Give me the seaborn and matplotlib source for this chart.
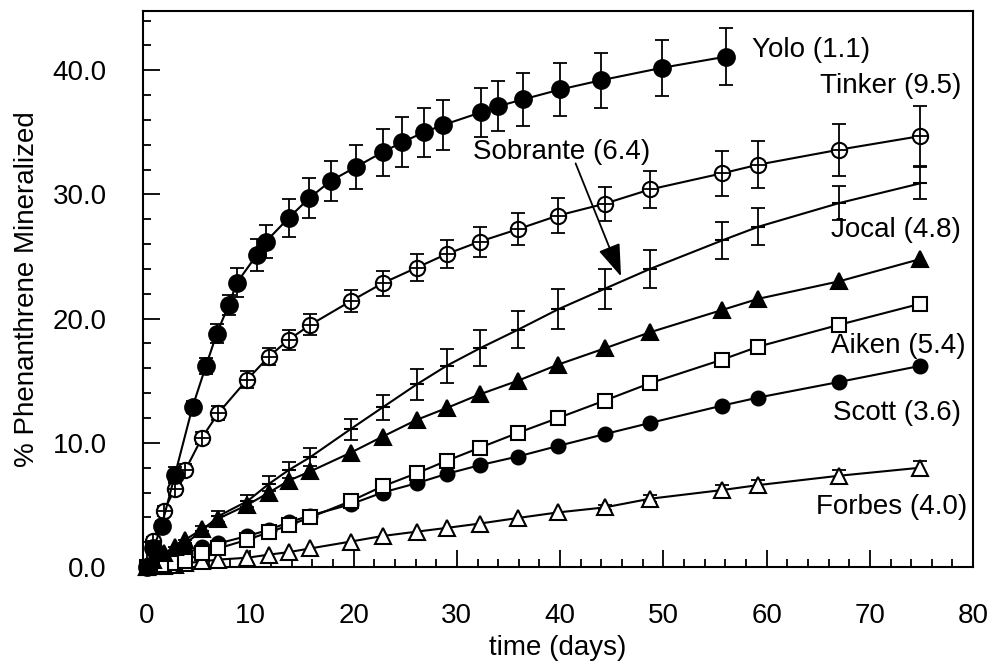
import matplotlib
matplotlib.use("Agg")
import matplotlib.pyplot as plt
from matplotlib.ticker import MultipleLocator, FormatStrFormatter
import numpy as np
import pandas as pd
import seaborn as sns

# Sampling days shared by most soils
days = [0, 0.6, 1.6, 2.7, 3.7, 5.3, 6.9, 9.7, 11.8, 13.7, 15.8, 19.7, 22.8,
        26.1, 29.0, 32.2, 35.9, 39.8, 44.3, 48.7, 55.7, 59.2, 67.0, 74.9]

# Yolo was sampled on its own schedule
yolo_days = [0, 0.6, 1.4, 2.7, 4.4, 5.7, 6.75, 7.9, 8.7, 10.6, 11.5, 13.7, 15.7,
             17.8, 20.2, 22.8, 24.7, 26.8, 28.7, 32.3, 34.0, 36.4, 40.0, 44.0,
             49.9, 56.1]
yolo = [0, 1.5, 3.3, 7.45, 12.9, 16.2, 18.8, 21.1, 22.9, 25.1, 26.2, 28.1, 29.7,
        31.1, 32.2, 33.4, 34.2, 35.0, 35.6, 36.6, 37.1, 37.65, 38.45, 39.2,
        40.2, 41.1]
yolo_sd = [0, 0.3, 0.4, 0.6, 0.5, 0.65, 0.75, 0.8, 1.15, 1.3, 1.3, 1.5, 1.6,
           1.6, 1.8, 1.9, 2.0, 2.0, 2.0, 2.0, 2.0, 2.1, 2.1, 2.2, 2.25, 2.3]

tinker = [0, 2.1, 4.5, 6.3, 7.8, 10.4, 12.4, 15.1, 16.95, 18.3, 19.5, 21.4,
          22.85, 24.1, 25.2, 26.2, 27.2, 28.3, 29.25, 30.4, 31.7, 32.4, 33.6, 34.7]
tinker_sd = [0, 0.3, 0.4, 0.5, 0.5, 0.5, 0.55, 0.65, 0.7, 0.8, 0.85, 0.9, 1.0,
             1.1, 1.1, 1.2, 1.3, 1.4, 1.35, 1.5, 1.8, 1.9, 2.1, 2.4]

sobrante = [0, 0.3, 0.8, 1.3, 1.9, 2.9, 4.1, 5.3, 6.7, 7.8, 8.85, 11.1, 12.85,
            14.7, 16.2, 17.6, 19.1, 20.75, 22.4, 24.0, 26.3, 27.4, 29.3, 30.9]
sobrante_sd = [0, 0.1, 0.2, 0.3, 0.3, 0.4, 0.45, 0.5, 0.6, 0.65, 0.7, 0.85, 1.0,
               1.25, 1.35, 1.45, 1.5, 1.6, 1.6, 1.5, 1.5, 1.5, 1.35, 1.3]

jocal = [0, 0.6, 1.1, 1.6, 2.2, 3.05, 3.9, 5.0, 6.0, 6.95, 7.7, 9.2, 10.5,
         11.85, 12.8, 13.9, 15.0, 16.3, 17.6, 18.9, 20.7, 21.6, 23.0, 24.8]

aiken = [0, 0.05, 0.15, 0.3, 0.5, 1.1, 1.5, 2.2, 2.8, 3.35, 4.0, 5.3, 6.5,
         7.55, 8.55, 9.6, 10.8, 12.0, 13.4, 14.8, 16.7, 17.75, 19.5, 21.2]

scott = [0, 0.2, 0.5, 0.8, 1.1, 1.6, 1.9, 2.5, 3.0, 3.6, 4.15, 5.05, 6.0,
         6.75, 7.5, 8.2, 8.9, 9.75, 10.7, 11.6, 13.0, 13.65, 14.9, 16.2]

forbes = [0, 0.05, 0.1, 0.2, 0.3, 0.45, 0.6, 0.75, 1.0, 1.2, 1.5, 2.05, 2.5,
          2.85, 3.15, 3.5, 3.95, 4.4, 4.8, 5.5, 6.2, 6.6, 7.35, 8.0]
forbes_sd = [0, 0, 0, 0, 0, 0, 0, 0, 0, 0, 0, 0, 0, 0, 0, 0, 0, 0,
             0.2, 0.3, 0.4, 0.4, 0.45, 0.5]

soil_labels = ["Yolo (1.1)", "Tinker (9.5)", "Sobrante (6.4)", "Jocal (4.8)",
               "Aiken (5.4)", "Scott (3.6)", "Forbes (4.0)"]
x_ticks = [0, 10, 20, 30, 40, 50, 60, 70, 80]
y_ticks = [0, 10, 20, 30, 40]

sns.set_theme(style="ticks")
plt.rcParams["font.family"] = ["Liberation Sans", "DejaVu Sans"]
plt.rcParams["axes.edgecolor"] = "black"
plt.rcParams["axes.linewidth"] = 1.5

frames = []
for name, xs, ys in [("Yolo", yolo_days, yolo), ("Tinker", days, tinker),
                     ("Sobrante", days, sobrante), ("Jocal", days, jocal),
                     ("Scott", days, scott), ("Aiken", days, aiken),
                     ("Forbes", days, forbes)]:
    frames.append(pd.DataFrame({"soil": name, "day": xs, "pct": ys}))
df = pd.concat(frames, ignore_index=True)

styles = {
    "Yolo":     dict(marker="o", markersize=12, markerfacecolor="black"),
    "Tinker":   dict(marker="o", markersize=11, markerfacecolor="white"),
    "Sobrante": dict(marker="_", markersize=10, markerfacecolor="black"),
    "Jocal":    dict(marker="^", markersize=11, markerfacecolor="black"),
    "Scott":    dict(marker="o", markersize=10, markerfacecolor="black"),
    "Aiken":    dict(marker="s", markersize=10.5, markerfacecolor="white"),
    "Forbes":   dict(marker="^", markersize=11, markerfacecolor="white"),
}

fig, ax = plt.subplots(figsize=(9.95, 6.64), dpi=100)
fig.subplots_adjust(left=0.1437, right=0.978, bottom=0.146, top=0.984)

errs = {"Yolo": (yolo_days, yolo, yolo_sd), "Tinker": (days, tinker, tinker_sd),
        "Sobrante": (days, sobrante, sobrante_sd), "Forbes": (days, forbes, forbes_sd)}

for z, soil in enumerate(["Forbes", "Scott", "Aiken", "Jocal", "Sobrante", "Tinker", "Yolo"]):
    sub = df[df["soil"] == soil]
    if soil in errs:
        xs, ys, sd = errs[soil]
        xs, ys, sd = np.array(xs), np.array(ys), np.array(sd)
        keep = sd > 0
        ax.errorbar(xs[keep], ys[keep], yerr=sd[keep], fmt="none", ecolor="black",
                    elinewidth=1.3, capsize=5, capthick=1.3, zorder=3 + z)
    sns.lineplot(data=sub, x="day", y="pct", ax=ax, color="black", linewidth=1.5,
                 markeredgecolor="black", markeredgewidth=1.5, clip_on=False,
                 errorbar=None, sort=False, zorder=3.5 + z, **styles[soil])
    if soil == "Tinker":
        ax.plot(sub["day"], sub["pct"], linestyle="none", marker="+",
                markersize=11, markeredgewidth=1.3, color="black",
                clip_on=False, zorder=3.6 + z)

ax.set_xlim(-0.4, 80)
ax.set_ylim(0, 44.8)
ax.set_xticks(x_ticks)
ax.set_yticks(y_ticks)
ax.yaxis.set_major_formatter(FormatStrFormatter("%.1f"))
ax.xaxis.set_minor_locator(MultipleLocator(2))
ax.yaxis.set_minor_locator(MultipleLocator(2))
ax.tick_params(which="both", direction="in", top=False, right=False,
               color="black", width=1.3, labelsize=20, pad=26, labelcolor="black")
ax.tick_params(which="major", length=12)
ax.tick_params(which="minor", length=6)
for s in ax.spines.values():
    s.set_visible(True)
    s.set_color("black")
    s.set_linewidth(1.5)

ax.set_xlabel("time (days)", fontsize=20, color="black", labelpad=4)
ax.set_ylabel("% Phenanthrene Mineralized", fontsize=20, color="black", labelpad=9)

txt = dict(fontsize=20, color="black", va="center")
ax.text(58.6, 41.6, soil_labels[0], ha="left", **txt)
ax.text(78.9, 38.7, soil_labels[1], ha="right", **txt)
ax.text(31.55, 33.4, soil_labels[2], ha="left", **txt)
ax.text(78.8, 27.1, soil_labels[3], ha="right", **txt)
ax.text(79.3, 17.8, soil_labels[4], ha="right", **txt)
ax.text(78.8, 12.4, soil_labels[5], ha="right", **txt)
ax.text(79.4, 4.8, soil_labels[6], ha="right", **txt)

ax.annotate("", xy=(45.9, 23.4), xytext=(41.5, 32.5),
            arrowprops=dict(arrowstyle="-|>,head_length=1.0,head_width=0.35",
                            color="black", lw=1.3, mutation_scale=20,
                            shrinkA=0, shrinkB=0))

ax.set_facecolor("white")
fig.patch.set_facecolor("white")
fig.savefig("out.png", dpi=100, facecolor="white")
